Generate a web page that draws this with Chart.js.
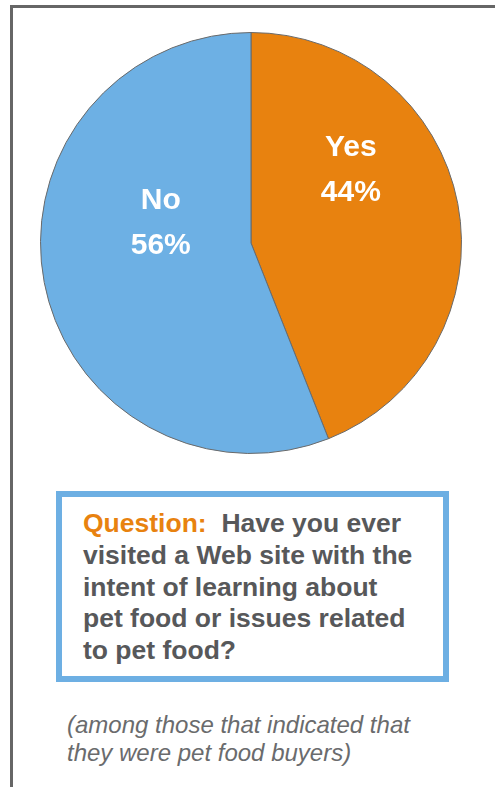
<!DOCTYPE html>
<html>
<head>
<meta charset="utf-8">
<script src="https://cdn.jsdelivr.net/npm/chart.js@4"></script>
<style>
  html, body { margin: 0; padding: 0; background: #fff; }
  body { width: 495px; height: 787px; position: relative; overflow: hidden; font-family: "Liberation Sans", Arial, sans-serif; }
  .frame { position: absolute; left: 10px; top: 5px; width: 600px; height: 900px; border-top: 3px solid #666; border-left: 3px solid #666; }
  #pie-wrap { position: absolute; left: 40px; top: 32px; width: 422px; height: 422px; }
  .question { position: absolute; left: 56px; top: 491px; width: 381px; height: 179px; border: 6px solid #6DAFE3; background: #fff; }
  .question p { position: absolute; left: 21px; top: 11px; margin: 0; font-size: 26.5px; font-weight: bold; line-height: 31.75px; color: #57585A; white-space: nowrap; }
  .question .lead { color: #E8820F; }
  .note { position: absolute; left: 67px; top: 711px; margin: 0; font-size: 24px; font-style: italic; line-height: 28px; color: #6A6B6D; white-space: nowrap; }
</style>
</head>
<body>
<div class="frame"></div>
<div id="pie-wrap"><canvas id="pie" width="422" height="422"></canvas></div>
<div class="question">
  <p><span class="lead">Question:</span>&nbsp; Have you ever<br>visited a Web site with the<br>intent of learning about<br>pet food or issues related<br>to pet food?</p>
</div>
<p class="note">(among those that indicated that<br>they were pet food buyers)</p>

<script>
// Answers and shares (%)
const answers = ['Yes', 'No'];
const shares = [44, 56];
const sliceColors = ['#E8820F', '#6DB0E4'];

// Where each two-line label sits: angle clockwise from 12 o'clock, and fraction of the radius
const labelAngle = [53.5, 283];
const labelRadius = [0.59, 0.44];

const sliceLabels = {
  id: 'sliceLabels',
  afterDatasetsDraw(chart) {
    const { ctx } = chart;
    const arcs = chart.getDatasetMeta(0).data;
    ctx.save();
    ctx.fillStyle = '#fff';
    ctx.font = 'bold 30px "Liberation Sans", Arial, sans-serif';
    ctx.textAlign = 'center';
    ctx.textBaseline = 'middle';
    arcs.forEach((arc, i) => {
      const a = labelAngle[i] * Math.PI / 180;
      const r = arc.outerRadius * labelRadius[i];
      const x = arc.x + Math.sin(a) * r;
      const y = arc.y - Math.cos(a) * r;
      ctx.fillText(answers[i], x, y - 21);
      ctx.fillText(shares[i] + '%', x, y + 24);
    });
    ctx.restore();
  }
};

new Chart(document.getElementById('pie'), {
  type: 'pie',
  data: {
    labels: answers,
    datasets: [{
      data: shares,
      backgroundColor: sliceColors,
      borderColor: '#6a6a6a',
      borderWidth: 1
    }]
  },
  options: {
    responsive: false,
    animation: false,
    layout: { padding: 0 },
    plugins: { legend: { display: false }, tooltip: { enabled: false } }
  },
  plugins: [sliceLabels]
});
</script>
</body>
</html>
